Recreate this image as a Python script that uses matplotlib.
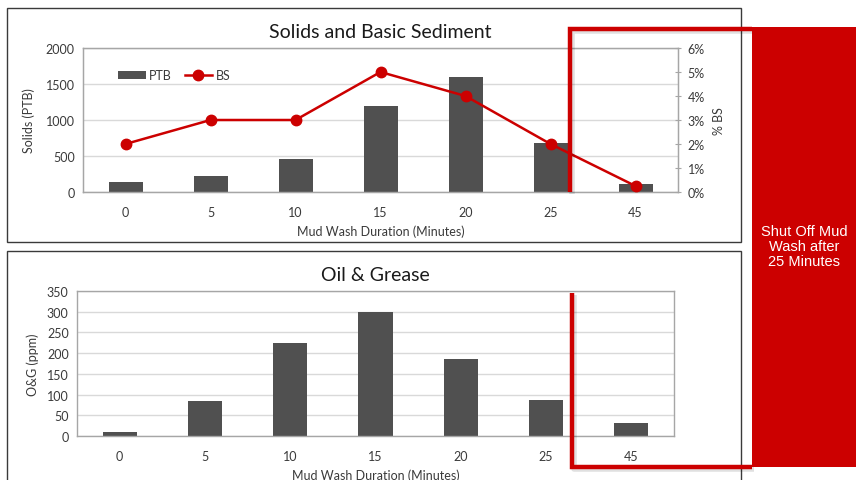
import matplotlib
matplotlib.use("Agg")
import matplotlib.pyplot as plt
from matplotlib.patches import Rectangle
from matplotlib.lines import Line2D
from matplotlib.ticker import FuncFormatter

# Data
durations = ["0", "5", "10", "15", "20", "25", "45"]
solids_ptb = [135, 220, 455, 1200, 1600, 680, 110]
bs_pct = [2.0, 3.0, 3.0, 5.0, 4.0, 2.0, 0.25]
oil_grease_ppm = [10, 85, 225, 300, 185, 88, 32]

W, H = 856, 481
fig = plt.figure(figsize=(W / 100, H / 100), dpi=100)
plt.rcParams["font.family"] = ["Lato", "DejaVu Sans"]

BAR = "#505050"
RED = "#CC0000"
GRID = "#D9D9D9"
SPINE = "#A6A6A6"
TXT = "#3a3a3a"


def box(x0, y0, x1, y1):
    """Pixel box (top-left origin) -> figure fraction rect."""
    return [x0 / W, 1 - y1 / H, (x1 - x0) / W, (y1 - y0) / H]


def fx(x):
    return x / W


def fy(y):
    return 1 - y / H


# Chart frames
for (x0, y0, x1, y1) in [(7, 9, 741, 243), (7, 252, 741, 490)]:
    fig.add_artist(Rectangle((fx(x0), fy(y1)), fx(x1) - fx(x0), fy(y0) - fy(y1),
                             transform=fig.transFigure, facecolor="white",
                             edgecolor="#3a3a3a", linewidth=1.0, zorder=-5))

x = list(range(len(durations)))


def style_axes(ax):
    ax.set_xlim(-0.5, len(durations) - 0.5)
    ax.set_xticks(x)
    ax.set_xticklabels(durations)
    ax.tick_params(axis="both", labelsize=9, colors=TXT, length=0, pad=6)
    ax.tick_params(axis="x", pad=10)
    for s in ax.spines.values():
        s.set_color(SPINE)
        s.set_linewidth(1.0)
    ax.yaxis.grid(True, color=GRID, linewidth=1.0)
    ax.set_axisbelow(True)
    ax.set_xlabel("Mud Wash Duration (Minutes)", fontsize=9, color=TXT, labelpad=5)


# Top chart: solids bars + BS line
ax1 = fig.add_axes(box(83, 49, 678, 193))
ax1.bar(x, solids_ptb, width=0.4, color=BAR, label="PTB", zorder=2)
ax1.set_ylim(0, 2000)
ax1.set_yticks(range(0, 2001, 500))
style_axes(ax1)
ax1.set_ylabel("Solids (PTB)", fontsize=9, color=TXT, labelpad=8)
ax1.set_title("Solids and Basic Sediment", fontsize=14, color="#1a1a1a", pad=8)

ax1b = ax1.twinx()
ax1b.plot(x, bs_pct, color=RED, linewidth=1.8, marker="o", markersize=7.5,
          label="BS", zorder=3)
ax1b.set_ylim(0, 6)
ax1b.set_yticks(range(0, 7))
ax1b.yaxis.set_major_formatter(FuncFormatter(lambda v, p: f"{int(v)}%"))
ax1b.tick_params(axis="y", labelsize=9, colors=TXT, length=4, direction="inout",
                 pad=5)
ax1b.tick_params(axis="y", color=SPINE)
for s in ax1b.spines.values():
    s.set_color(SPINE)
ax1b.set_ylabel("% BS", fontsize=9, color=TXT, rotation=90, labelpad=6)

h1, l1 = ax1.get_legend_handles_labels()
h2, l2 = ax1b.get_legend_handles_labels()
ax1b.legend(h1 + h2, l1 + l2, loc="upper left", bbox_to_anchor=(0.04, 0.93),
            ncol=2, frameon=False, fontsize=9, handlelength=2.2,
            handletextpad=0.3, columnspacing=1.0, labelcolor=TXT)

# Bottom chart: oil & grease bars
ax2 = fig.add_axes(box(77, 292, 674, 437))
ax2.bar(x, oil_grease_ppm, width=0.4, color=BAR, zorder=2)
ax2.set_ylim(0, 350)
ax2.set_yticks(range(0, 351, 50))
style_axes(ax2)
ax2.set_ylabel("O&G (ppm)", fontsize=9, color=TXT, labelpad=6)
ax2.set_title("Oil & Grease", fontsize=14, color="#1a1a1a", pad=8)

# Callout: red panel with shut-off note
fig.add_artist(Rectangle((fx(752), fy(468)), fx(857) - fx(752), fy(28) - fy(468),
                         transform=fig.transFigure, facecolor=RED,
                         edgecolor="none", zorder=20))
fig.text(fx(804), fy(247), "Shut Off Mud\nWash after\n25 Minutes",
         ha="center", va="center", color="white", fontsize=10.5,
         family=["Liberation Sans", "DejaVu Sans"], linespacing=1.1, zorder=21)

# Bracket lines marking the cutoff
segments = [
    ([570, 570, 752], [193, 30, 30]),
    ([572, 572, 752], [294, 468, 468]),
]
for xs, ys in segments:
    fig.add_artist(Line2D([fx(v + 2) for v in xs], [fy(v + 2) for v in ys],
                          transform=fig.transFigure, color="#000000",
                          alpha=0.12, linewidth=4, zorder=18,
                          solid_capstyle="butt"))
    fig.add_artist(Line2D([fx(v) for v in xs], [fy(v) for v in ys],
                          transform=fig.transFigure, color=RED,
                          linewidth=3.2, zorder=19, solid_capstyle="butt",
                          solid_joinstyle="miter"))

fig.savefig("out.png", dpi=100, facecolor="white")
